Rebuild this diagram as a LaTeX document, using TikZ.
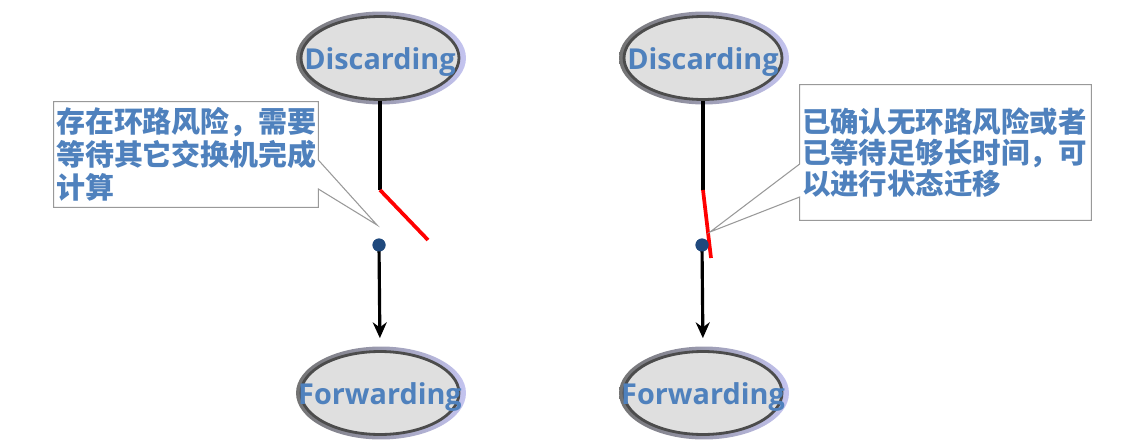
\documentclass[tikz,border=0pt]{standalone}
\usepackage{fontspec}
\setmainfont{Open Sans}
\newfontfamily\cjkfont{Noto Sans CJK SC}
\usetikzlibrary{shapes.geometric,arrows.meta}
\definecolor{labelBlue}{RGB}{79,129,189}
\definecolor{dotBlue}{RGB}{31,73,125}
\definecolor{haloBlue}{RGB}{196,196,240}

\begin{document}
\begin{tikzpicture}
[x=0.02cm,y=-0.02cm,
  haloDecorate/.style={shape=ellipse,minimum width=3.4cm,minimum height=1.86cm,
    inner sep=0pt,left color=black!55,right color=haloBlue},%
  stateDecorate/.style={shape=ellipse,minimum width=3.16cm,minimum height=1.66cm,
    inner sep=0pt,draw=black!70,line width=1.6pt,fill=gray!25},%
  textDecorate/.style={text=labelBlue,font=\bfseries\fontsize{16.4}{19}\selectfont,
    inner sep=0pt,yshift=-0.08cm},%
  dotDecorate/.style={shape=circle,minimum size=0.26cm,inner sep=0pt,fill=dotBlue},%
  lineDecorate/.style={-,line width=2.1pt,black},%
  switchDecorate/.style={-,line width=2.1pt,red},%
  arrowDecorate/.style={-{Stealth[length=9pt,width=8pt]},line width=1.8pt,shorten >=0.24cm},%
  noteDecorate/.style={inner xsep=0.04cm,inner ysep=0pt,align=left,text=labelBlue,
    font=\cjkfont\bfseries\fontsize{16.5}{18.7}\selectfont},%
  calloutDecorate/.style={draw=black!40,line width=0.6pt,fill=white}]
\useasboundingbox (0,0) rectangle (1145,446);
%% states
\foreach \nodename/\x/\y/\txt in {dL/380/58/Discarding, fL/380/393/Forwarding,
  dR/703/58/Discarding, fR/703/393/Forwarding}
{
  \node [haloDecorate] at (\x+1,\y) {};
  \node (\nodename) at (\x,\y) [stateDecorate,
    label={[textDecorate]center:\txt}] {};
}
%% switch blades
\foreach \side/\x/\tipx/\tipy in {L/380/428/240, R/703/711/258}
{
  \coordinate (hinge\side) at (\x,190);
  \coordinate (blade\side) at (\tipx,\tipy);
  \draw[lineDecorate] (d\side.south) -- (hinge\side);
  \draw[switchDecorate] (hinge\side) -- (blade\side);
  \node (dot\side) at (\x-1,245) [dotDecorate] {};
  \draw[arrowDecorate] (dot\side.center) -- (f\side.north);
  \node (dot\side) at (\x-1,245) [dotDecorate] {};
}
%% callouts
\node (noteL) at (186,154.5) [noteDecorate,minimum width=5.28cm,minimum height=2.1cm,
  text width=5.2cm] {};
\coordinate (pinL) at (377,225);
\draw[calloutDecorate] (noteL.north west) -- (noteL.north east) -- (noteL.east |- 0,160)
  -- (pinL) -- (noteL.east |- 0,189) -- (noteL.south east) -- (noteL.south west) -- cycle;
\node at (noteL) [noteDecorate,text width=5.2cm]
  {存在环路风险，需要\\等待其它交换机完成\\计算};
\node (noteR) at (945.5,152.5) [noteDecorate,minimum width=5.82cm,minimum height=2.7cm,
  text width=5.74cm] {};
\coordinate (pinR) at (710,232);
\draw[calloutDecorate] (noteR.north west) -- (noteR.north east) -- (noteR.south east)
  -- (noteR.south west) -- (noteR.west |- 0,197) -- (pinR) -- (noteR.west |- 0,164) -- cycle;
\node at (noteR) [noteDecorate,text width=5.74cm,
  font=\cjkfont\bfseries\fontsize{16.2}{17.6}\selectfont]
  {已确认无环路风险或者\\已等待足够长时间，可\\以进行状态迁移};
\end{tikzpicture}
\end{document}
